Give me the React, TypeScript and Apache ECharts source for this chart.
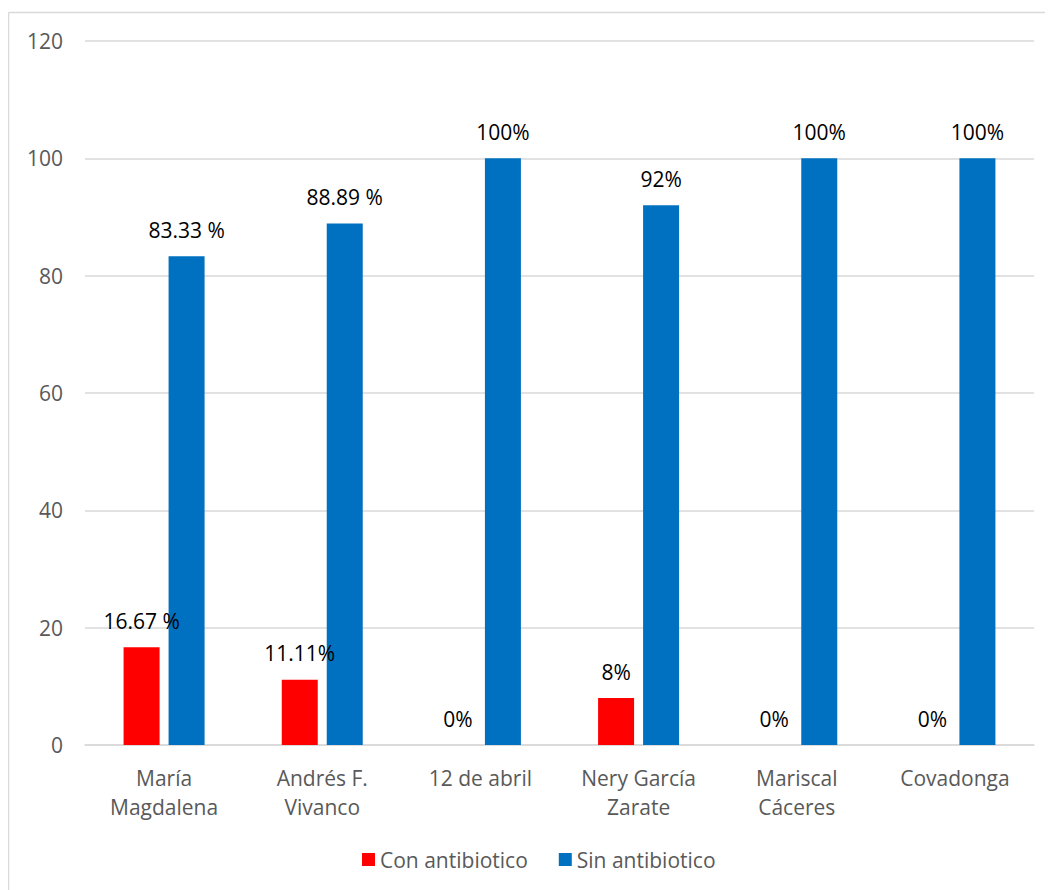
import React, { useEffect, useRef } from "react";
import * as echarts from "echarts";

const categories = ["María\nMagdalena", "Andrés F.\nVivanco", "12 de abril", "Nery García\nZarate", "Mariscal\nCáceres", "Covadonga"];
const conValues = [16.67, 11.11, 0, 8, 0, 0];
const sinValues = [83.33, 88.89, 100, 92, 100, 100];
const conLabels = ["16.67 %", "11.11%", "0%", "8%", "0%", "0%"];
const sinLabels = ["83.33 %", "88.89 %", "100%", "92%", "100%", "100%"];
const yTicks = { min: 0, max: 120, interval: 20 };

const FONT = "Open Sans";

export default function App() {
  const ref = useRef<HTMLDivElement>(null);
  useEffect(() => {
    if (!ref.current) return;
    const chart = echarts.init(ref.current, null, { renderer: "svg" });
    const labelStyle = { show: true, position: "top", distance: 16, color: "#000", fontSize: 21, fontFamily: FONT };
    chart.setOption({
      animation: false,
      backgroundColor: "#fff",
      graphic: [
        { type: "line", shape: { x1: 0.5, y1: 4.5, x2: 1045, y2: 4.5 }, style: { stroke: "#d9d9d9", lineWidth: 1.5 } },
        { type: "line", shape: { x1: 0.5, y1: 4.5, x2: 0.5, y2: 882 }, style: { stroke: "#d9d9d9", lineWidth: 1.5 } },
      ],
      grid: { left: 77, right: 19, top: 33, bottom: 145 },
      legend: {
        left: 349,
        top: 836,
        itemWidth: 13,
        itemHeight: 13,
        itemGap: 31,
        icon: "rect",
        textStyle: { color: "#595959", fontSize: 21, fontFamily: FONT },
        data: ["Con antibiotico", "Sin antibiotico"],
      },
      xAxis: {
        type: "category",
        data: categories,
        axisLine: { lineStyle: { color: "#d9d9d9", width: 1.5 } },
        axisTick: { show: false },
        axisLabel: { color: "#595959", fontSize: 21, fontFamily: FONT, lineHeight: 29, margin: 18, interval: 0 },
      },
      yAxis: {
        type: "value",
        min: yTicks.min,
        max: yTicks.max,
        interval: yTicks.interval,
        axisLine: { show: false },
        axisTick: { show: false },
        splitLine: { lineStyle: { color: "#d9d9d9", width: 1.5 } },
        axisLabel: { color: "#595959", fontSize: 21, fontFamily: FONT, margin: 22 },
      },
      series: [
        {
          name: "Con antibiotico",
          type: "bar",
          data: conValues,
          barWidth: 36,
          barGap: "25%",
          itemStyle: { color: "#ff0000" },
          label: { ...labelStyle, formatter: (p: any) => conLabels[p.dataIndex] },
        },
        {
          name: "Sin antibiotico",
          type: "bar",
          data: sinValues,
          barWidth: 36,
          itemStyle: { color: "#0070c0" },
          label: { ...labelStyle, formatter: (p: any) => sinLabels[p.dataIndex] },
        },
      ],
    });
    return () => chart.dispose();
  }, []);
  return <div ref={ref} style={{ width: 1045, height: 882 }} />;
}
